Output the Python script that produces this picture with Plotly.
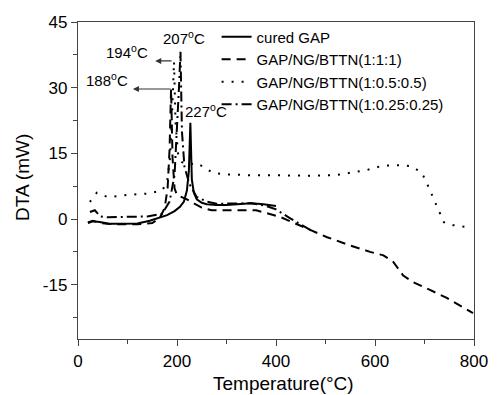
import plotly.graph_objects as go

# cured GAP
gap_x = [20, 30, 44, 63, 90, 120, 145, 165, 180, 195, 206, 214, 220, 224, 227, 230, 234, 240, 250, 260, 280, 300, 330, 350, 375, 400]
gap_y = [-0.9, -0.5, -0.7, -1.1, -1.1, -1.0, -0.4, 0.3, 0.9, 1.8, 2.8, 4.0, 6.5, 11.0, 22.0, 9.0, 6.0, 4.5, 3.7, 3.4, 3.2, 3.2, 3.5, 3.6, 3.4, 3.0]

# GAP/NG/BTTN(1:1:1)
n111_x = [20, 30, 45, 60, 90, 120, 150, 165, 175, 181, 185, 188, 191, 195, 200, 210, 220, 235, 250, 270, 300, 330, 360, 408, 455, 502, 549, 590, 617, 637, 657, 677, 711, 745, 798]
n111_y = [-0.8, -0.4, -0.9, -1.1, -1.2, -1.2, -0.9, 0.2, 2.5, 7.0, 16.0, 29.7, 14.0, 7.0, 5.5, 5.0, 4.5, 3.5, 2.6, 2.0, 2.0, 2.0, 2.0, 0.5, -1.8, -4.1, -6.0, -7.5, -8.3, -9.8, -12.9, -14.4, -16.2, -18.0, -21.5]

# GAP/NG/BTTN(1:0.5:0.5)
n055_x = [24, 38, 60, 100, 140, 170, 180, 186, 190, 194, 197, 202, 210, 225, 240, 273, 300, 350, 400, 462, 520, 584, 616, 657, 675, 695, 707, 717, 727, 739, 758, 782]
n055_y = [3.9, 6.0, 5.0, 5.5, 5.8, 6.5, 8.5, 14.0, 24.0, 36.0, 22.0, 15.0, 13.0, 12.5, 12.8, 10.5, 10.2, 10.0, 10.0, 9.9, 10.0, 11.2, 12.2, 12.3, 12.0, 10.5, 7.6, 5.0, 2.1, -0.7, -1.4, -1.8]

# GAP/NG/BTTN(1:0.25:0.25)
n025_x = [24, 34, 45, 60, 100, 140, 170, 185, 195, 200, 204, 207, 210, 215, 225, 240, 260, 280, 320, 350, 380, 400, 428, 469]
n025_y = [1.6, 2.0, 0.6, 0.4, 0.5, 0.6, 1.2, 4.0, 10.0, 20.0, 30.0, 38.2, 20.0, 12.0, 8.0, 5.0, 4.0, 3.5, 3.5, 3.6, 3.0, 2.2, 0.2, -2.5]

series_names = ["cured GAP", "GAP/NG/BTTN(1:1:1)", "GAP/NG/BTTN(1:0.5:0.5)", "GAP/NG/BTTN(1:0.25:0.25)"]
x_ticks = [0, 200, 400, 600, 800]
y_ticks = [-15, 0, 15, 30, 45]
y_tick_labels = ["-15", "0", "15", "30", "45"]

fig = go.Figure()
styles = ["solid", "9px,6px", "2px,8px", "10px,4px,2px,4px"]
data = [(gap_x, gap_y), (n111_x, n111_y), (n055_x, n055_y), (n025_x, n025_y)]
for (xs, ys), name, dash in zip(data, series_names, styles):
    fig.add_trace(go.Scatter(x=xs, y=ys, mode="lines", name=name,
                             line=dict(color="black", width=2, dash=dash)))

font = "Liberation Sans, Arial, sans-serif"
# page body has an 8px margin, so the figure is sized/offset to compensate
fig.update_layout(
    width=489, height=387,
    margin=dict(l=70, r=23, t=14, b=56),
    plot_bgcolor="white", paper_bgcolor="white",
    font=dict(family=font, color="black"),
    showlegend=True,
    legend=dict(x=0.35, y=1.005, xanchor="left", yanchor="top",
                bgcolor="rgba(0,0,0,0)", font=dict(size=15, family=font),
                tracegroupgap=0, itemwidth=30),
)
fig.update_xaxes(range=[0, 800], tickvals=x_ticks, ticks="outside", ticklen=6,
                 tickwidth=1, linecolor="#444", linewidth=1.3, mirror=True, showgrid=False,
                 zeroline=False, tickfont=dict(size=17), automargin=False,
                 minor=dict(tickvals=[100, 300, 500, 700], ticks="outside", ticklen=4, tickcolor="#444"))
fig.update_yaxes(range=[-27.4, 45], tickvals=y_ticks, ticktext=y_tick_labels, ticks="outside", ticklen=6,
                 tickwidth=1, linecolor="#444", linewidth=1.3, mirror=True, showgrid=False,
                 zeroline=False, tickfont=dict(size=17), automargin=False,
                 minor=dict(tickvals=[-22.5, -7.5, 7.5, 22.5, 37.5], ticks="outside", ticklen=4, tickcolor="#444"))

# axis titles
fig.add_annotation(xref="paper", yref="paper", x=(283 - 78) / 396, y=(339 - 383) / 317,
                   text="Temperature(°C)", showarrow=False, font=dict(size=19, family=font),
                   xanchor="center", yanchor="middle")
fig.add_annotation(xref="paper", yref="paper", x=(22 - 78) / 396, y=(339 - 178) / 317,
                   text="DTA (mW)", showarrow=False, textangle=-90, font=dict(size=19, family=font),
                   xanchor="center", yanchor="middle")

ann_font = dict(size=15, family=font, color="black")
fig.add_annotation(x=214, y=41.4, text="207<sup>o</sup>C", showarrow=False, font=ann_font)
fig.add_annotation(x=99, y=38.2, text="194<sup>o</sup>C", showarrow=False, font=ann_font)
fig.add_annotation(x=59, y=31.8, text="188<sup>o</sup>C", showarrow=False, font=ann_font)
fig.add_annotation(x=259, y=24.9, text="227<sup>o</sup>C", showarrow=False, font=ann_font)
fig.add_annotation(x=156, y=36.1, ax=192, ay=36.1, xref="x", yref="y", axref="x", ayref="y",
                   text="", showarrow=True, arrowhead=2, arrowsize=1, arrowwidth=1.2, arrowcolor="#333")
fig.add_annotation(x=111, y=29.7, ax=190, ay=29.7, xref="x", yref="y", axref="x", ayref="y",
                   text="", showarrow=True, arrowhead=2, arrowsize=1, arrowwidth=1.2, arrowcolor="#333")

fig.write_html("out.html")
